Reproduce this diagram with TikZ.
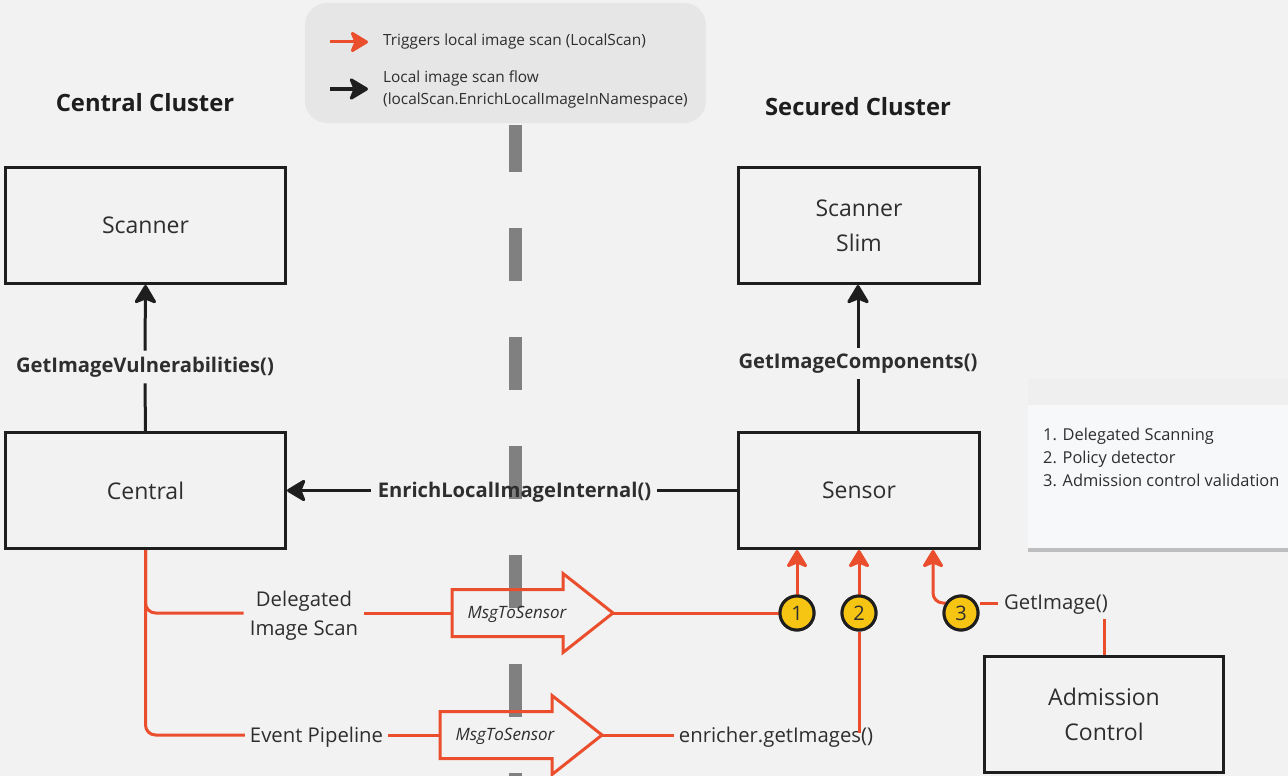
\documentclass[tikz,border=0pt]{standalone}
\usepackage{fontspec}
\setmainfont{Open Sans}
\usetikzlibrary{arrows.meta,positioning,shadows}

\definecolor{canvas}{HTML}{F2F2F2}
\definecolor{legendgray}{HTML}{E6E6E6}
\definecolor{dividergray}{HTML}{808080}
\definecolor{scanred}{HTML}{EB4E2D}
\definecolor{flowblack}{HTML}{1E1E1E}
\definecolor{inkgray}{HTML}{2E2E2E}
\definecolor{stepyellow}{HTML}{F6C513}
\definecolor{notewhite}{HTML}{F7F8F9}
\definecolor{notetop}{HTML}{EFEFF0}

\tikzstyle{component} = [
  shape=rectangle,
  draw=flowblack,
  line width=3pt,
  fill=canvas,
  text=inkgray,
  align=center,
  minimum width=280pt,
  minimum height=116pt,
  font=\fontsize{23}{35}\selectfont]
\tikzstyle{clustertitle} = [font=\fontsize{23.8}{28}\selectfont\bfseries, text=flowblack]
\tikzstyle{callname} = [font=\fontsize{20.2}{24}\selectfont\bfseries, text=inkgray, inner sep=0pt]
\tikzstyle{pathname} = [font=\fontsize{20.3}{29}\selectfont, text=inkgray, align=center, inner sep=0pt]
\tikzstyle{flow} = [line width=3pt, draw=flowblack,
  -{Stealth[length=21pt,width=25pt,inset=5pt,round]}]
\tikzstyle{flowline} = [line width=3pt, draw=flowblack]
\tikzstyle{trigger} = [line width=3pt, draw=scanred,
  -{Stealth[length=20pt,width=24pt,inset=5pt,round]}]
\tikzstyle{triggerline} = [line width=3pt, draw=scanred]
\tikzstyle{stepdot} = [circle, draw=flowblack, line width=3pt, fill=stepyellow,
  minimum size=34pt, inner sep=0pt, text=inkgray, font=\fontsize{20}{20}\selectfont]
\tikzstyle{msgshape} = [line width=3pt, draw=scanred, line join=miter]
\tikzstyle{msglabel} = [font=\fontsize{17}{20}\selectfont\itshape, text=inkgray, inner sep=0pt]
\tikzstyle{keytext} = [font=\fontsize{15.4}{22}\selectfont, text=inkgray, align=left, inner sep=0pt, anchor=west]

% hollow block arrow: name, tail x, tip x, y
\newcommand{\msgarrow}[4]{%
  \draw[msgshape] (#2,#4-23.5) -- (#3-50,#4-23.5) -- (#3-50,#4-39.5) -- (#3,#4)
    -- (#3-50,#4+39.5) -- (#3-50,#4+23.5) -- (#2,#4+23.5) -- cycle;
  \coordinate (#1 tail) at (#2,#4);
  \coordinate (#1 tip) at (#3,#4);
  \node[msglabel] (#1) at (#2+65,#4+1) {MsgToSensor};
}

\begin{document}
\begin{tikzpicture}[x=1pt, y=-1pt]
  \fill[canvas] (0,0) rectangle (1288,776);
  \useasboundingbox (0,0) rectangle (1288,776);

  % divider between the clusters
  \draw[dividergray, line width=13pt, dash pattern=on 53pt off 56pt, dash phase=6pt]
    (515,125) -- (515,776);

  % legend
  \node[fill=legendgray, rounded corners=22pt, minimum width=401pt, minimum height=120pt]
    (legend) at (505.5,63) {};
  \node[keytext] (keyred) at (383,42) {Triggers local image scan (LocalScan)};
  \node[keytext] (keyblack) at (383,89) {Local image scan flow\\(localScan.EnrichLocalImageInNamespace)};
  \draw[trigger] ([xshift=-53pt]keyred.west) -- ([xshift=-15pt]keyred.west);
  \draw[flow] ([xshift=-53pt]keyblack.west) -- ([xshift=-15pt]keyblack.west);

  \node[clustertitle] (centraltitle) at (145,103) {Central Cluster};
  \node[clustertitle] (securedtitle) at (858,107) {Secured Cluster};

  \node[component] (scanner) at (145.5,225.5) {Scanner};
  \node[component] (central) at (145.5,490.5) {Central};
  \node[component, minimum width=241pt] (slim) at (859,225.5) {Scanner\\Slim};
  \node[component, minimum width=241pt] (sensor) at (859,490.5) {Sensor};
  \node[component, minimum width=239pt] (admission) at (1104,714.5) {Admission\\Control};

  % sticky note
  \node[fill=notewhite, anchor=north west, minimum width=262pt, minimum height=170pt,
    drop shadow={shadow xshift=0pt, shadow yshift=-4pt, opacity=0.45}]
    (notepaper) at (1028,378) {};
  \fill[notetop] (notepaper.north west) rectangle ([yshift=-27pt]notepaper.north east);
  \node[keytext, font=\fontsize{16.4}{23}\selectfont, below right=50pt and 15pt of notepaper.north west]
    (notelist) {1. Delegated Scanning\\2. Policy detector\\3. Admission control validation};

  % local scan flow
  \node[callname] (vulns) at (145,367) {GetImageVulnerabilities()};
  \draw[flowline] (central.north) -- ([yshift=-6pt]vulns.south);
  \draw[flow] ([yshift=6pt]vulns.north) -- (scanner.south);
  \node[callname] (components) at (858,364) {GetImageComponents()};
  \draw[flowline] (sensor.north -| components) -- ([yshift=-5pt]components.south);
  \draw[flow] ([yshift=6pt]components.north) -- (slim.south -| components);
  \node[callname] (enrich) at (514.5,492) {EnrichLocalImageInternal()};
  \draw[flowline] (sensor.west) -- ([xshift=6pt]sensor.west -| enrich.east);
  \draw[flow] ([xshift=-7pt]central.east -| enrich.west) -- (central.east);

  % triggers from central
  \node[pathname] (delegated) at (304,616) {Delegated\\Image Scan};
  \node[pathname] (pipeline) at (316.5,737) {Event Pipeline};
  \msgarrow{msgdelegated}{452}{613}{613}
  \msgarrow{msgpipeline}{440}{602}{735}
  \draw[triggerline, rounded corners=10pt] (central.south) |- ([xshift=-6pt]msgdelegated tail -| delegated.west);
  \draw[triggerline, rounded corners=10pt] (central.south) |- ([xshift=-5pt]msgpipeline tail -| pipeline.west);
  \draw[triggerline] ([xshift=6pt]msgdelegated tail -| delegated.east) -- (msgdelegated tail);
  \draw[triggerline] ([xshift=5pt]msgpipeline tail -| pipeline.east) -- (msgpipeline tail);

  \node[stepdot] (one) at (797,613) {1};
  \node[stepdot] (two) at (859,613) {2};
  \node[stepdot] (three) at (961,613) {3};
  \node[pathname] (enricher) at (776,737) {enricher.getImages()};
  \node[pathname] (getimage) at (1056,605) {GetImage()};

  \draw[triggerline] (msgdelegated tip) -- (one.west);
  \draw[trigger] (one.north) -- (one.north |- sensor.south);
  \draw[triggerline] (msgpipeline tip) -- ([xshift=-5pt]msgpipeline tip -| enricher.west);
  \draw[triggerline] ([yshift=-6pt]enricher.north -| two) -- (two.south);
  \draw[trigger] (two.north) -- (two.north |- sensor.south);
  \draw[triggerline] (admission.north) -- ([yshift=-4pt]admission.north |- getimage.south);
  \coordinate (getimagein) at (961,603);
  \draw[triggerline] ([xshift=-6pt]getimagein -| getimage.west) -- (getimagein -| three.east);
  \draw[trigger, rounded corners=10pt] (getimagein) -| ([xshift=74pt]sensor.south);

  % redraw the dots over the connector ends
  \node[stepdot] at (one) {1};
  \node[stepdot] at (two) {2};
  \node[stepdot] at (three) {3};
\end{tikzpicture}
\end{document}
